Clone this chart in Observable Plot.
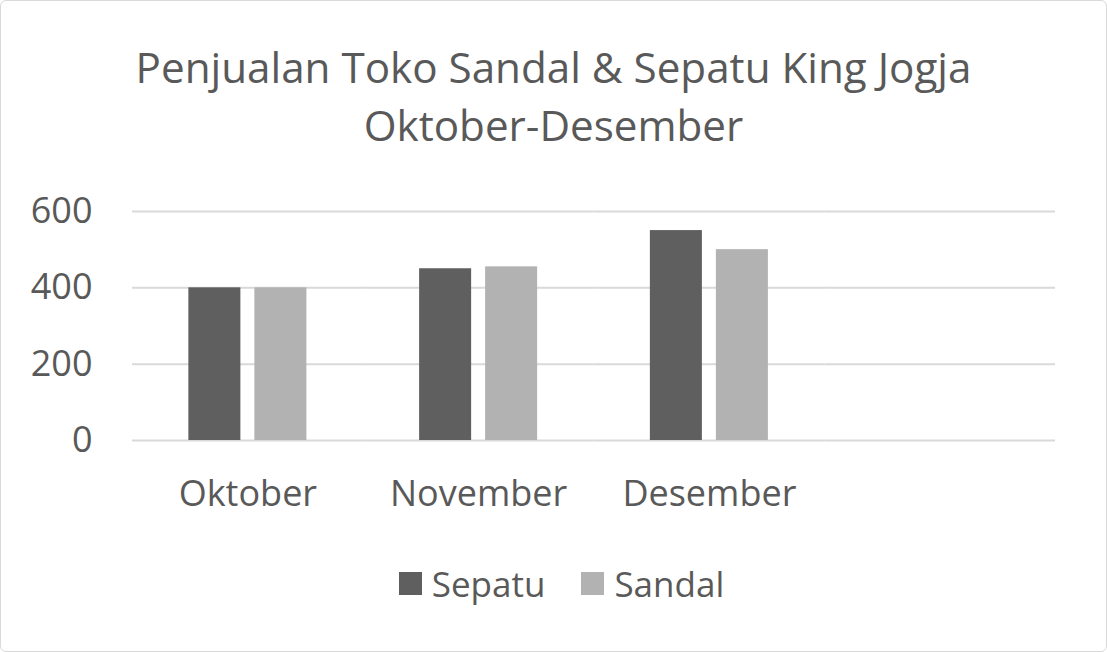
<!DOCTYPE html>
<html>
<head>
<meta charset="utf-8">
<script src="https://cdn.jsdelivr.net/npm/d3@7"></script>
<script src="https://cdn.jsdelivr.net/npm/@observablehq/plot@0.6"></script>
<style>
  html, body { margin: 0; padding: 0; background: #fff; }
  #wrap {
    position: relative; width: 1107px; height: 652px; box-sizing: border-box;
    border: 1px solid #d9d9d9; border-radius: 6px; overflow: hidden;
    font-family: "Open Sans", sans-serif; color: #595959; background: #fff;
  }
  #title {
    position: absolute; left: 0; top: 37px; width: 100%; text-align: center;
    font-size: 42.2px; line-height: 58px; color: #595959;
  }
  #chart { position: absolute; left: 0; top: 152px; }
  #legend {
    position: absolute; left: 14px; top: 558px; width: 1093px; height: 48px;
    display: flex; justify-content: center; align-items: center;
    font-size: 35px; color: #595959;
  }
  .item { display: flex; align-items: center; margin: 0 18px; }
  .sw { width: 23px; height: 23px; margin-right: 10px; }
</style>
</head>
<body>
<div id="wrap">
  <div id="title">Penjualan Toko Sandal &amp; Sepatu King Jogja<br>Oktober-Desember</div>
  <div id="chart"></div>
  <div id="legend"></div>
</div>
<script>
const months = ["Oktober", "November", "Desember"];
const emptySlot = " ";
const seriesNames = ["Sepatu", "Sandal"];
const sepatu = [400, 450, 550];
const sandal = [400, 455, 500];
const yTicks = [0, 200, 400, 600];
const colors = ["#5f5f5f", "#b2b2b2"];

const rows = [];
months.forEach((m, i) => {
  rows.push({month: m, series: "Sepatu", value: sepatu[i]});
  rows.push({month: m, series: "Sandal", value: sandal[i]});
});
const fxDomain = [...months, emptySlot];
const gridRows = [];
fxDomain.forEach(m => yTicks.forEach(t => gridRows.push({month: m, v: t})));

const W = 1105, H = 395;
const chart = Plot.plot({
  width: W,
  height: H,
  marginTop: 58,
  marginBottom: H - 287,
  marginLeft: 131,
  marginRight: 51,
  style: {fontFamily: "Open Sans, sans-serif", color: "#595959", background: "transparent", overflow: "visible"},
  fx: {domain: fxDomain, padding: 0, round: false, axis: "bottom", label: null, tickSize: 0, tickPadding: 40,
       tickFormat: d => d.trim()},
  x: {domain: seriesNames, paddingInner: 0.212, paddingOuter: 0.854, round: false, axis: null},
  y: {domain: [0, 600], ticks: yTicks, label: null, tickSize: 0, tickPadding: 40},
  color: {domain: seriesNames, range: colors},
  marks: [
    Plot.ruleY(gridRows, {y: "v", fx: "month", stroke: "#d9d9d9", strokeWidth: 2}),
    Plot.barY(rows, {fx: "month", x: "series", y: "value", fill: "series"})
  ]
});
chart.querySelectorAll("g[aria-label='y-axis tick label'], g[aria-label='fx-axis tick label']").forEach(g => {
  g.setAttribute("font-size", "36");
  g.setAttribute("fill", "#595959");
});
document.getElementById("chart").appendChild(chart);

const legend = document.getElementById("legend");
seriesNames.forEach((s, i) => {
  const item = document.createElement("div");
  item.className = "item";
  const sw = document.createElement("span");
  sw.className = "sw";
  sw.style.background = colors[i];
  const lab = document.createElement("span");
  lab.textContent = s;
  item.appendChild(sw);
  item.appendChild(lab);
  legend.appendChild(item);
});
</script>
</body>
</html>
